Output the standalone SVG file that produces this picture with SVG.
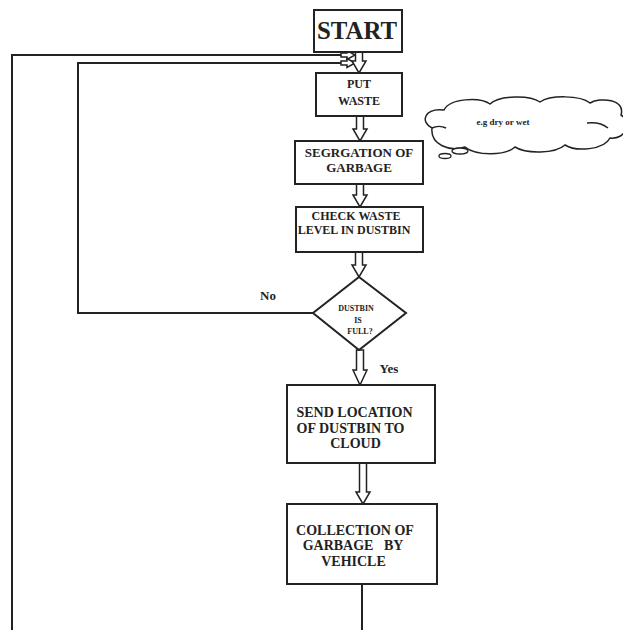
<svg xmlns="http://www.w3.org/2000/svg" width="623" height="630" viewBox="0 0 623 630">
<style>
.box{fill:#fff;stroke:#222;stroke-width:2}
.ln{fill:none;stroke:#222;stroke-width:2}
.arr{fill:#fff;stroke:#222;stroke-width:1.5;stroke-linejoin:miter}
.t{font-family:"Liberation Serif",serif;font-weight:bold;fill:#222;text-anchor:middle}
</style>
<rect width="623" height="630" fill="#fff"/>
<g id="connectors">
<path class="ln" d="M362,584 V630"/>
<path class="ln" d="M12,630 V55 H343"/>
<path class="ln" d="M313,313 H78 V63 H343"/>
<path class="arr" d="M341,53 H347 V50.5 L355,55 L347,59.5 V57 H341 Z"/>
<path class="arr" d="M341,61 H347 V58.5 L355,63 L347,67.5 V65 H341 Z"/>
<path class="arr" d="M355.5,52 V61 H352 L359,73 L366,61 H362.5 V52 Z"/>
<path class="arr" d="M356.5,116 V129 H353 L360,141 L367,129 H363.5 V116 Z"/>
<path class="arr" d="M356.5,184 V195 H353 L360,207 L367,195 H363.5 V184 Z"/>
<path class="arr" d="M355.5,252 V265 H352 L359,277 L366,265 H362.5 V252 Z"/>
<path class="arr" d="M356.5,350 V370 H353 L360,385 L367,370 H363.5 V350 Z"/>
<path class="arr" d="M359.5,463 V492 H356 L363,504 L370,492 H366.5 V463 Z"/>
<text class="t" x="268" y="300" font-size="13">No</text>
<text class="t" x="389" y="373" font-size="13">Yes</text>
</g>
<g id="start">
<rect class="box" x="314" y="10" width="88" height="42"/>
<text class="t" x="357" y="39" font-size="26" textLength="80" lengthAdjust="spacingAndGlyphs">START</text>
</g>
<g id="put-waste">
<rect class="box" x="316" y="73" width="86" height="43"/>
<text class="t" x="359" y="88" font-size="12">PUT</text>
<text class="t" x="359" y="105" font-size="12">WASTE</text>
</g>
<g id="cloud">
<path fill="#fff" stroke="#222" stroke-width="1.5" d="M432,128 C420,122 424,108 444,110 C450,98 480,97 490,104 C500,95 530,95 540,102 C550,95 580,95 590,103 C600,97 626,99 621,115 C632,122 626,140 610,138 C604,150 576,152 565,145 C555,154 526,154 515,147 C505,156 476,156 465,147 C450,152 430,145 432,128 Z"/>
<path fill="none" stroke="#222" stroke-width="1.5" d="M432,128 C436,126 442,126 446,128 M587,123 C595,122 603,124 608,128"/>
<ellipse cx="460" cy="151" rx="8" ry="3" fill="#fff" stroke="#222" stroke-width="1.3"/>
<ellipse cx="445" cy="156" rx="6" ry="2.5" fill="#fff" stroke="#222" stroke-width="1.3"/>
<text class="t" x="503" y="125" font-size="9">e.g dry or wet</text>
</g>
<g id="segregation">
<rect class="box" x="295" y="141" width="128" height="43"/>
<text class="t" x="359" y="157" font-size="13">SEGRGATION OF</text>
<text class="t" x="359" y="172" font-size="13">GARBAGE</text>
</g>
<g id="check-level">
<rect class="box" x="296" y="207" width="127" height="45"/>
<text class="t" x="356" y="220" font-size="12">CHECK WASTE</text>
<text class="t" x="354" y="234" font-size="12">LEVEL IN DUSTBIN</text>
</g>
<g id="decision">
<polygon class="box" points="359,277 406,313 359,350 313,313"/>
<text class="t" x="356" y="311" font-size="8">DUSTBIN</text>
<text class="t" x="358" y="323" font-size="8">IS</text>
<text class="t" x="360" y="334" font-size="8">FULL?</text>
</g>
<g id="send-location">
<rect class="box" x="287" y="385" width="148" height="78"/>
<text class="t" x="354.5" y="417" font-size="14">SEND LOCATION</text>
<text class="t" x="350.5" y="433" font-size="14">OF DUSTBIN TO</text>
<text class="t" x="355.5" y="448" font-size="14">CLOUD</text>
</g>
<g id="collection">
<rect class="box" x="287" y="504" width="150" height="80"/>
<text class="t" x="355" y="535" font-size="14">COLLECTION OF</text>
<text class="t" x="353" y="550" font-size="14" xml:space="preserve">GARBAGE   BY</text>
<text class="t" x="353.5" y="566" font-size="14">VEHICLE</text>
</g>
</svg>
